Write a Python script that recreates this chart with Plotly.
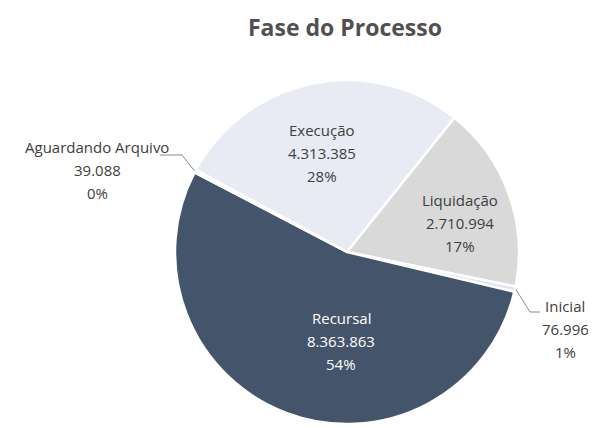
import math
import plotly.graph_objects as go

# ---- data ----
labels = ["Execução", "Liquidação", "Inicial", "Recursal", "Aguardando Arquivo"]
values = [4313385, 2710994, 76996, 8363863, 39088]
value_text = ["4.313.385", "2.710.994", "76.996", "8.363.863", "39.088"]
pct_text = ["28%", "17%", "1%", "54%", "0%"]
colors = ["#e8eaf4", "#d9d9d9", "#dfe5ef", "#44546a", "#e3e7f0"]
text_colors = ["#404040", "#404040", "#404040", "#ffffff", "#404040"]
title_text = "Fase do Processo"

# ---- layout constants (page pixels) ----
OFF = 8  # page body margin offset
W, H = 596 - OFF, 428 - OFF
CX, CY, R = 347, 252, 172
ROT = 298.5
LINE = 23
# label block centre x and first-line y for each slice
label_xy = [(322, 130), (460, 200), (565, 306), (341, 318), (97, 147)]
# elbow leader lines for the small slices: (elbow point, end point)
leaders = {2: ((530, 312), (540, 312)), 4: ((182, 155), (160, 155))}


def px(x, y):
    return (x - OFF) / W, 1 - (y - OFF) / H


x0, y1 = px(CX - R, CY - R)
x1, y0 = px(CX + R, CY + R)

fig = go.Figure(go.Pie(
    labels=labels,
    values=values,
    textinfo="none",
    sort=False,
    direction="clockwise",
    rotation=ROT,
    marker=dict(colors=colors, line=dict(color="white", width=2.5)),
    domain=dict(x=[x0, x1], y=[max(y0, 0), y1]),
    showlegend=False,
    hoverinfo="skip",
))

annotations = []
for i, (lab, vt, pt) in enumerate(zip(labels, value_text, pct_text)):
    lx, ly = label_xy[i]
    for k, line in enumerate([lab, vt, pt]):
        ax, ay = px(lx, ly + k * LINE)
        annotations.append(dict(
            x=ax, y=ay, xref="paper", yref="paper", text=line, showarrow=False,
            xanchor="center", yanchor="middle",
            font=dict(family="Open Sans", size=15, color=text_colors[i]),
        ))

tx_, ty_ = px(345, 9)
annotations.append(dict(
    x=tx_, y=ty_, xref="paper", yref="paper", text=f"<b>{title_text}</b>", showarrow=False,
    xanchor="center", yanchor="top",
    font=dict(family="Open Sans", size=23, color="#505050"),
))

shapes = []
total = sum(values)
cum = 0
for i, v in enumerate(values):
    mid = math.radians(ROT + 360 * (cum + v / 2) / total)
    cum += v
    if i in leaders:
        ex, ey = CX + (R + 1) * math.sin(mid), CY - (R + 1) * math.cos(mid)
        (bx, by), (tx, ty) = leaders[i]
        p0, p1, p2 = px(ex, ey), px(bx, by), px(tx, ty)
        shapes.append(dict(
            type="path", xref="paper", yref="paper",
            path=f"M {p0[0]},{p0[1]} L {p1[0]},{p1[1]} L {p2[0]},{p2[1]}",
            line=dict(color="#8a8a8a", width=1),
        ))

fig.update_layout(
    width=W, height=H,
    margin=dict(l=0, r=0, t=0, b=0),
    paper_bgcolor="white",
    annotations=annotations,
    shapes=shapes,
)

fig.write_html("out.html")
